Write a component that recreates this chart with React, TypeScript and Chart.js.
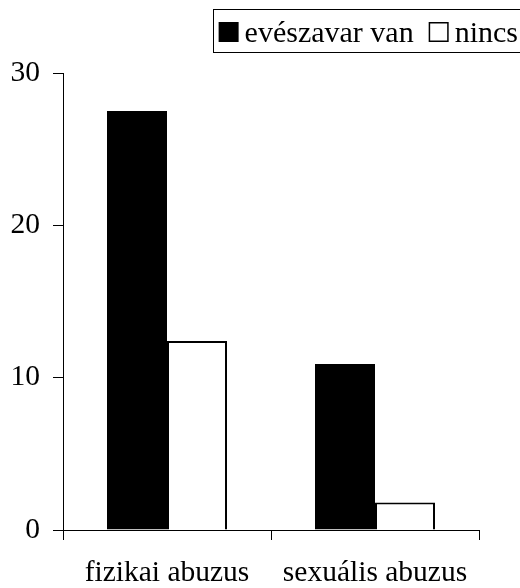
import React, { useEffect, useRef } from "react";
import { Chart, registerables } from "chart.js";

Chart.register(...registerables);

const categories = ["fizikai abuzus", "sexuális abuzus"];
const seriesNames = ["evészavar van", "nincs"];
const evészavarVan = [27.5, 10.9];
const nincs = [12.4, 1.8];
const yTicks = [0, 10, 20, 30];

const FONT = "'Liberation Serif', 'Times New Roman', serif";
const FS = 29.5;
const LFS = 30;

const legendPlugin = {
  id: "boxLegend",
  afterDraw(chart: any) {
    const ctx = chart.ctx;
    ctx.save();
    ctx.strokeStyle = "#000";
    ctx.lineWidth = 1;
    ctx.strokeRect(213.5, 9.5, 330, 43);
    ctx.font = `${LFS}px ${FONT}`;
    ctx.textBaseline = "alphabetic";
    const sq = 20;
    const sqTop = 22;
    const baseline = 42;
    const gapText = 6;
    const gapItem = 15;
    const labels: string[] = chart.data.datasets.map((d: any) => d.label);
    let total = 0;
    labels.forEach((l, i) => {
      total += sq + gapText + ctx.measureText(l).width + (i < labels.length - 1 ? gapItem : 0);
    });
    let x = 518 - total;
    chart.data.datasets.forEach((ds: any, i: number) => {
      if (i === 0) {
        ctx.fillStyle = "#000";
        ctx.fillRect(x, sqTop, sq, sq);
      } else {
        ctx.fillStyle = "#fff";
        ctx.fillRect(x, sqTop, sq, sq);
        ctx.lineWidth = 1.5;
        ctx.strokeStyle = "#000";
        ctx.strokeRect(x + 0.75, sqTop + 0.75, sq - 1.5, sq - 1.5);
      }
      x += sq + gapText;
      ctx.fillStyle = "#000";
      ctx.fillText(ds.label, x, baseline);
      x += ctx.measureText(ds.label).width + gapItem;
    });
    ctx.restore();
  },
};

export default function App() {
  const ref = useRef<HTMLCanvasElement | null>(null);
  useEffect(() => {
    document.body.style.margin = "0";
    const canvas = ref.current!;
    const chart = new Chart(canvas, {
      type: "bar",
      data: {
        labels: categories,
        datasets: [
          {
            label: seriesNames[0],
            data: evészavarVan,
            backgroundColor: "#000",
            borderColor: "#000",
            borderWidth: 1,
            categoryPercentage: 0.577,
            barPercentage: 1,
          },
          {
            label: seriesNames[1],
            data: nincs,
            backgroundColor: "#fff",
            borderColor: "#000",
            borderWidth: 2,
            categoryPercentage: 0.577,
            barPercentage: 1,
          },
        ],
      },
      options: {
        responsive: false,
        animation: false,
        layout: { padding: { top: 73, right: 41, bottom: 0, left: 0 } },
        plugins: {
          legend: { display: false },
          tooltip: { enabled: false },
        },
        scales: {
          x: {
            grid: {
              display: true,
              drawOnChartArea: false,
              drawTicks: true,
              tickLength: 10,
              color: "#000",
              offset: true,
            },
            border: { display: true, color: "#000", width: 1 },
            ticks: {
              color: "#000",
              font: { family: FONT, size: FS },
              padding: 16,
              maxRotation: 0,
            },
            afterFit(scale: any) {
              scale.height = 58;
            },
          },
          y: {
            min: 0,
            max: 30,
            afterBuildTicks(scale: any) {
              scale.ticks = yTicks.map((v) => ({ value: v }));
            },
            grid: {
              display: true,
              drawOnChartArea: false,
              drawTicks: true,
              tickLength: 10,
              color: "#000",
            },
            border: { display: true, color: "#000", width: 1 },
            ticks: {
              color: "#000",
              font: { family: FONT, size: FS },
              padding: 13,
            },
            afterFit(scale: any) {
              scale.width = 63;
            },
          },
        },
      },
      plugins: [legendPlugin],
    });
    return () => chart.destroy();
  }, []);
  return <canvas ref={ref} width={520} height={588} style={{ display: "block" }} />;
}
